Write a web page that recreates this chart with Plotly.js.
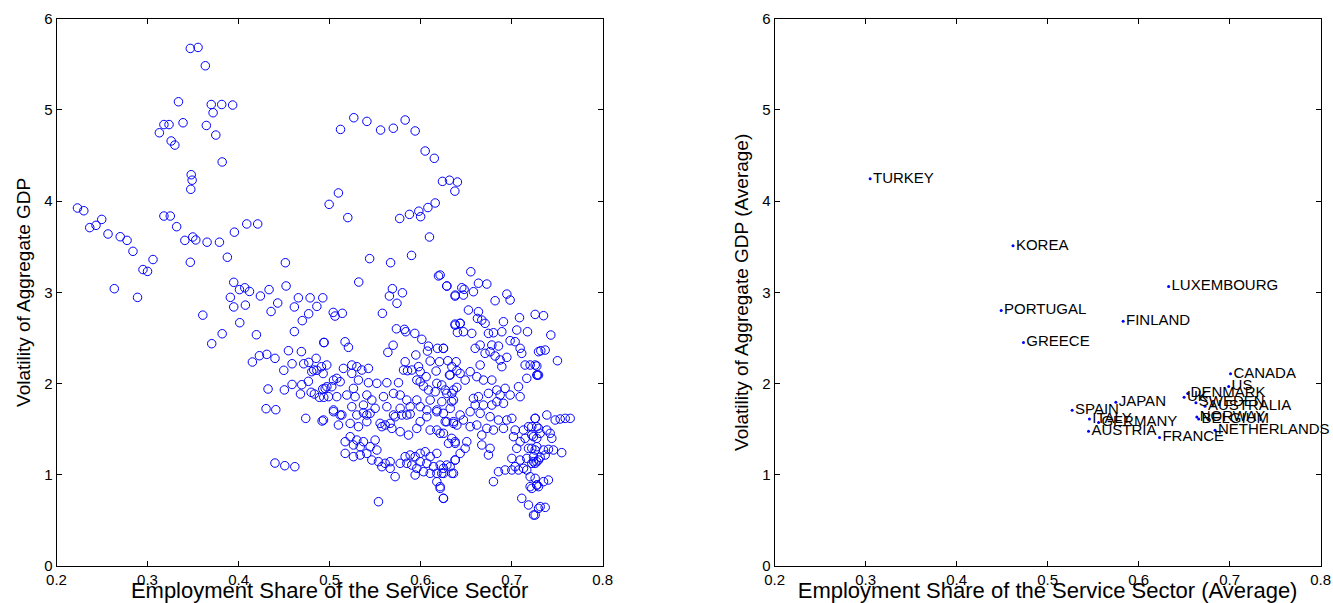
<!DOCTYPE html>
<html>
<head>
<meta charset="utf-8">
<script src="https://cdn.plot.ly/plotly-3.0.1.min.js"></script>
<style>html,body{margin:0;padding:0;background:#fff;}#chart{width:1333px;height:603px;}</style>
</head>
<body>
<div id="chart"></div>
<script>
// Left panel: country-year observations (employment share of services, GDP volatility)
const panelShare = [
0.347,0.3555,0.3635,0.334,0.370,0.3815,0.3935,0.372,0.318,0.3236,0.339,0.313,0.3646,0.375,0.326,0.33,0.382,0.348,0.349,0.3475,
0.223,0.230,0.2497,0.2365,0.2434,0.2566,0.270,0.2775,0.284,0.306,0.295,0.300,0.2635,0.289,0.318,0.325,0.332,0.341,0.3497,0.353,
0.3654,0.379,0.347,0.3954,0.3877,0.409,0.421,0.3947,0.401,0.4068,0.412,0.391,0.3947,0.4075,
0.512,0.5266,0.541,0.556,0.570,0.583,0.594,0.605,0.615,0.624,0.6317,0.6404,0.6376,0.5097,0.4995,0.520,0.577,0.5877,0.598,0.600,
0.608,0.616,0.6097,0.4514,0.544,0.567,0.590,0.6196,0.6288,0.638,0.532,0.4522,0.4335,0.424,0.569,0.580,0.5657,0.4657,0.4786,0.4925,
0.3607,0.382,0.3705,0.4013,0.4196,0.443,0.4357,0.4613,0.486,0.477,0.470,0.4613,0.4936,0.4548,0.469,0.4229,0.431,0.440,0.4152,0.4497,
0.4588,0.4716,0.4771,0.4852,0.4826,0.491,0.4929,0.486,0.4804,0.4767,0.4694,0.4588,0.468,0.4503,0.4324,0.4797,0.4833,0.4888,0.4925,0.4936,
0.497,0.4302,0.4409,0.4738,0.4918,0.440,0.4508,0.4618,
0.574,0.506,0.514,0.504,0.558,0.494,0.517,0.5207,0.5698,0.564,
0.5734,0.5822,0.5837,0.5936,0.6013,0.6086,0.6185,0.6251,0.6075,0.6379,0.6434,0.6404,
0.5947,0.583,0.5856,0.5812,0.5903,0.5977,0.5995,0.6105,0.606,0.617,0.6207,0.6299,0.639,0.6343,0.6398,0.6317,0.6178,0.5995,0.6032,0.5958,
0.6086,0.616,0.627,0.6343,0.6398,
0.4969,0.5152,0.5244,0.5299,0.5354,0.5427,0.5244,0.5079,0.5043,0.5116,0.5317,0.5427,0.5519,0.5629,0.5757,0.4951,0.5024,0.5262,0.4988,0.5079,
0.5189,0.528,0.5409,0.5464,0.5592,0.5702,0.5775,0.5848,0.5958,0.6105,0.6233,0.6361,0.5043,0.5244,0.5372,0.55,0.5629,0.5775,0.5885,0.5995,
0.6068,0.6178,0.6325,0.5116,0.5299,0.5409,0.5702,0.5848,
0.4933,0.5043,0.5134,0.5097,0.5226,0.5317,0.5409,0.5372,0.5445,0.5555,0.561,0.5665,0.5574,0.5684,0.572,0.5793,0.5885,0.5995,0.6068,0.5958,
0.5775,0.5867,0.6105,0.6178,0.6251,0.6270,0.6361,0.6398,0.6306,0.638,0.6178,
0.5171,0.5226,0.5299,0.5372,0.5262,0.5336,0.5445,0.55,0.5519,0.5171,0.5262,0.5336,0.5409,0.5464,0.5537,0.561,0.5665,0.5574,0.5665,0.572,
0.5775,0.5830,0.5885,0.5940,0.5995,0.6050,0.6105,0.6178,0.5848,0.5903,0.5995,0.6068,0.6141,0.6215,0.6288,0.5958,0.6032,0.6105,0.6178,0.6251,
0.6343,0.638,0.594,0.6178,0.6215,0.6251,0.5537,
0.6551,0.6214,0.6287,0.6452,0.6478,0.6635,0.6727,0.6379,0.647,0.658,0.6947,0.6983,0.6818,0.6525,0.6635,0.6624,0.6672,0.6708,0.7258,0.7086,
0.6379,0.6434,0.647,0.6562,0.6745,0.6800,0.6892,0.691,0.7056,0.7174,0.6983,0.7038,0.7093,0.7111,0.625,0.6599,0.6654,0.6782,0.6855,0.6708,
0.6763,0.6818,0.6873,0.6947,0.7148,0.7203,0.7258,0.6892,0.6654,0.7295,
0.735,0.743,0.732,0.7368,0.7503,0.7276,0.7284,
0.6324,0.6434,0.6544,0.6617,0.6690,0.6782,0.6489,0.6232,0.6361,0.6287,0.6580,0.6635,0.6745,0.6837,0.6928,0.6983,0.6873,0.7075,0.7166,0.7276,
0.7093,0.6599,0.669,0.6782,0.6837,0.691,0.6342,0.625,0.6434,0.6544,0.6654,0.6763,0.6855,0.6947,0.7002,0.6287,0.6361,0.647,0.6544,0.6617,
0.6727,0.68,0.691,0.7038,0.713,0.7185,0.7258,0.7276,0.6214,0.6342,0.6379,0.6507,0.6672,0.6672,0.6763,0.6745,0.6489,0.6434,0.6379,0.702,
0.7093,0.7148,0.7221,0.7276,0.7056,0.7185,0.7258,0.7002,0.7093,0.7166,0.7240,0.7295,0.7038,0.713,0.7221,0.625,0.6324,0.6232,0.6361,0.6855,
0.6928,0.7002,0.7075,0.7166,0.7203,0.7258,0.68,0.6214,0.7203,0.7276,0.7111,0.7185,0.724,0.7295,0.625,
0.7295,0.7386,0.7478,0.7533,0.7588,0.7643,0.7258,0.7221,0.7295,0.7386,0.7423,0.7441,0.724,0.7313,0.7221,0.7276,0.735,0.7404,0.7459,0.755,
0.724,0.7313,0.7368,0.7276,0.7258,0.735,0.7404,0.7276,0.7221,0.7295,0.7313,0.7368,0.7258
];
const panelVol = [
5.675,5.686,5.485,5.09,5.06,5.06,5.054,4.97,4.84,4.84,4.86,4.75,4.83,4.725,4.66,4.615,4.43,4.29,4.23,4.13,
3.925,3.895,3.80,3.71,3.735,3.64,3.61,3.57,3.45,3.36,3.25,3.23,3.04,2.945,3.837,3.837,3.72,3.57,3.607,3.575,
3.55,3.55,3.33,3.66,3.385,3.75,3.75,3.11,3.03,3.05,3.01,2.945,2.84,2.86,
4.787,4.915,4.875,4.78,4.80,4.89,4.77,4.55,4.47,4.217,4.23,4.21,4.11,4.09,3.965,3.82,3.81,3.855,3.89,3.83,
3.93,3.98,3.607,3.325,3.37,3.325,3.405,3.18,3.07,2.97,3.113,3.07,3.03,2.96,3.04,2.995,2.96,2.94,2.94,2.94,
2.75,2.546,2.437,2.667,2.535,2.883,2.79,2.84,2.846,2.765,2.69,2.57,2.45,2.36,2.35,2.305,2.32,2.276,2.236,2.145,
2.217,2.217,2.232,2.276,2.148,2.184,2.11,2.145,2.13,2.024,1.987,1.99,1.885,1.93,1.94,1.904,1.885,1.849,1.94,1.849,
1.965,1.724,1.713,1.618,1.589,1.128,1.099,1.088,
2.88,2.74,2.77,2.78,2.77,2.45,2.458,2.397,2.42,2.342,
2.60,2.594,2.568,2.55,2.485,2.41,2.386,2.386,2.356,2.64,2.66,2.56,
2.313,2.239,2.141,2.148,2.148,2.185,2.13,2.247,2.075,2.137,2.239,2.25,2.239,2.185,2.141,2.093,2.002,2.02,1.973,2.038,
1.929,1.91,1.929,1.892,1.958,
2.203,2.166,2.203,2.185,2.148,2.166,2.111,2.057,2.038,2.02,2.038,2.009,2.002,2.009,2.009,1.947,1.965,1.947,1.856,1.856,
1.874,1.856,1.874,1.819,1.856,1.892,1.874,1.819,1.819,1.819,1.801,1.819,1.71,1.746,1.764,1.728,1.746,1.728,1.746,1.746,
1.71,1.71,1.728,1.655,1.655,1.655,1.655,1.655,
1.600,1.691,1.655,1.545,1.563,1.527,1.582,1.680,1.673,1.563,1.545,1.563,1.527,1.508,1.636,1.655,1.666,1.582,1.636,1.508,
1.472,1.435,1.49,1.49,1.454,1.582,1.582,1.545,1.344,1.344,1.691,
1.362,1.417,1.38,1.362,1.326,1.307,1.307,1.38,1.271,1.234,1.198,1.216,1.234,1.161,1.143,1.125,1.143,1.088,1.07,0.979,
1.125,1.198,1.216,1.198,1.234,1.252,1.198,1.234,1.125,1.106,1.143,1.125,1.088,1.106,1.106,1.07,1.033,1.015,1.015,1.015,
1.015,1.161,0.997,0.924,0.85,0.741,0.704,
3.226,3.19,3.069,3.051,3.033,3.1,3.091,2.959,2.97,3.007,2.981,2.916,2.908,2.806,2.788,2.714,2.696,2.66,2.758,2.722,
2.652,2.66,2.568,2.55,2.55,2.557,2.568,2.678,2.587,2.568,2.47,2.459,2.386,2.331,2.386,2.386,2.422,2.422,2.411,2.331,
2.349,2.302,2.258,2.287,2.203,2.203,2.203,2.185,2.203,2.349,
2.744,2.532,2.36,2.367,2.25,2.192,2.093,
2.093,2.111,2.13,2.075,2.038,2.038,2.038,1.984,1.929,1.892,1.837,1.856,1.892,1.929,1.947,1.874,1.874,1.965,2.057,2.093,
1.856,1.764,1.764,1.764,1.801,1.783,1.801,1.673,1.655,1.691,1.673,1.636,1.6,1.6,1.618,1.581,1.563,1.6,1.527,1.545,
1.508,1.49,1.508,1.49,1.49,1.527,1.618,1.527,1.454,1.399,1.362,1.362,1.435,1.326,1.289,1.216,1.289,1.234,1.161,1.417,
1.362,1.399,1.435,1.399,1.289,1.289,1.271,1.179,1.161,1.179,1.143,1.161,1.088,1.07,1.125,1.07,1.088,1.015,1.015,1.033,
1.052,1.052,1.052,1.052,0.978,0.96,0.924,0.869,0.869,0.887,0.741,0.668,0.558,0.631,0.741,
2.093,1.655,1.6,1.611,1.618,1.618,1.618,1.527,1.508,1.49,1.454,1.399,1.417,1.454,1.289,1.307,1.271,1.278,1.271,1.242,
1.198,1.19,1.216,1.143,1.125,0.924,0.942,0.887,0.85,0.869,0.65,0.642,0.558
];

// Right panel: country averages
const countries = ["TURKEY","KOREA","LUXEMBOURG","PORTUGAL","FINLAND","GREECE","CANADA","US","DENMARK","UK",
  "SWEDEN","AUSTRALIA","JAPAN","SPAIN","ITALY","GERMANY","AUSTRIA","FRANCE","NORWAY","BELGIUM","NETHERLANDS"];
const avgShare = [0.305,0.462,0.633,0.449,0.583,0.4735,0.701,0.699,0.654,0.650,
  0.663,0.673,0.575,0.527,0.546,0.556,0.545,0.623,0.664,0.666,0.684];
const avgVol = [4.245,3.51,3.064,2.80,2.684,2.45,2.106,1.967,1.89,1.85,
  1.79,1.75,1.795,1.707,1.61,1.572,1.477,1.408,1.634,1.61,1.488];

const xTicks = [0.2,0.3,0.4,0.5,0.6,0.7,0.8];
const xTickText = ["0.2","0.3","0.4","0.5","0.6","0.7","0.8"];
const yTicks = [0,1,2,3,4,5,6];
const yTickText = ["0","1","2","3","4","5","6"];

const W = 1333, H = 603;
const FONT = "Liberation Sans, Arial, Helvetica, sans-serif";
const blue = "rgb(0,0,255)";

const traces = [
  {
    type: "scatter", mode: "markers", x: panelShare, y: panelVol, xaxis: "x", yaxis: "y",
    marker: {symbol: "circle-open", size: 8.5, color: blue, line: {width: 1, color: blue}},
    hoverinfo: "x+y", showlegend: false
  },
  {
    type: "scatter", mode: "markers+text", x: avgShare, y: avgVol, text: countries,
    textposition: "middle right", xaxis: "x2", yaxis: "y2", cliponaxis: false,
    textfont: {family: FONT, size: 15, color: "#000"},
    marker: {symbol: "circle", size: 3, color: blue},
    showlegend: false
  }
];

function xax(domain, titleText, anchor) {
  return {
    domain: domain, anchor: anchor, range: [0.2, 0.8], autorange: false,
    tickmode: "array", tickvals: xTicks, ticktext: xTickText,
    ticks: "inside", ticklen: 5, tickwidth: 1, tickcolor: "#000",
    showline: true, linecolor: "#000", linewidth: 1, mirror: "ticks",
    showgrid: false, zeroline: false,
    tickfont: {family: FONT, size: 15, color: "#000"},
    title: {text: titleText, font: {family: FONT, size: 22, color: "#000"}, standoff: 4},
    automargin: false
  };
}
function yax(domain, titleText, anchor) {
  return {
    domain: domain, anchor: anchor, range: [0, 6], autorange: false,
    tickmode: "array", tickvals: yTicks, ticktext: yTickText,
    ticks: "inside", ticklen: 5, tickwidth: 1, tickcolor: "#000",
    showline: true, linecolor: "#000", linewidth: 1, mirror: "ticks",
    showgrid: false, zeroline: false,
    tickfont: {family: FONT, size: 15, color: "#000"},
    title: {text: titleText, font: {family: FONT, size: 19, color: "#000"}, standoff: 8},
    automargin: false
  };
}

const yDom = [(H - 565.9) / H, (H - 18.8) / H];
const layout = {
  width: W, height: H,
  margin: {l: 0, r: 0, t: 0, b: 0, pad: 0},
  paper_bgcolor: "#fff", plot_bgcolor: "#fff",
  font: {family: FONT, color: "#000"},
  showlegend: false,
  xaxis: xax([56.5 / W, 602.7 / W], "Employment Share of the Service Sector", "y"),
  yaxis: yax(yDom, "Volatility of Aggregate GDP", "x"),
  xaxis2: xax([774.6 / W, 1320.6 / W], "Employment Share of the Service Sector (Average)", "y2"),
  yaxis2: yax(yDom, "Volatility of Aggregate GDP (Average)", "x2")
};

Plotly.newPlot("chart", traces, layout, {displayModeBar: false, staticPlot: true});
</script>
</body>
</html>
